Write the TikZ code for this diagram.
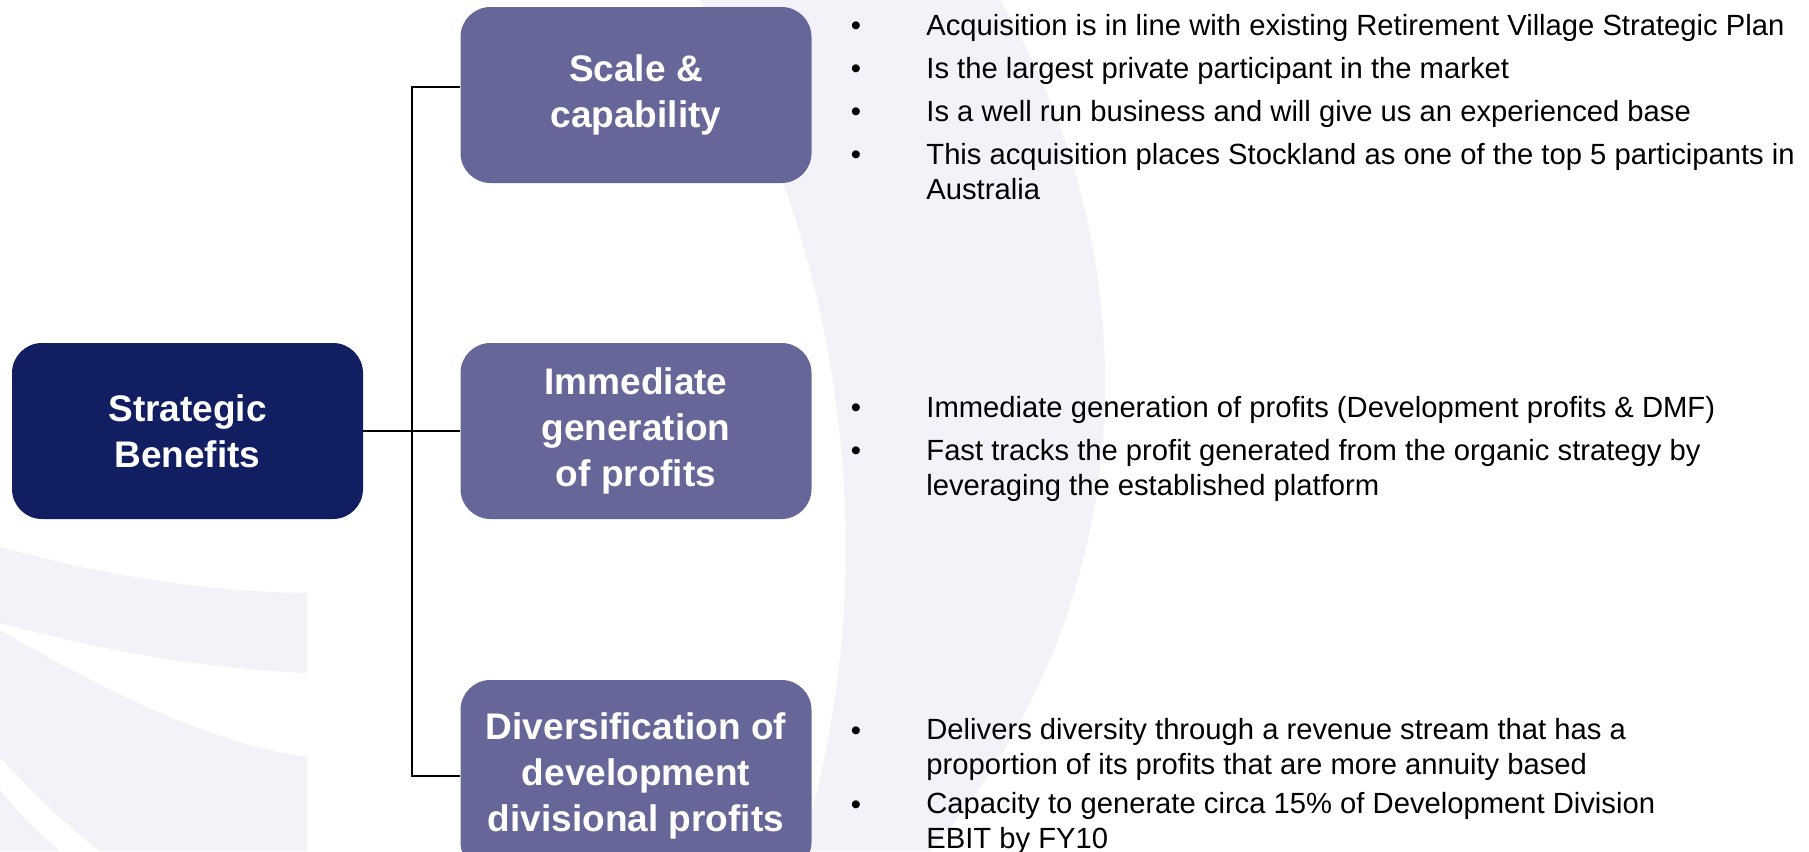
\documentclass[tikz,border=0pt]{standalone}
\usepackage{fontspec}
\setmainfont{Liberation Sans}
\usetikzlibrary{positioning}

\definecolor{navy}{HTML}{121E62}
\definecolor{slate}{HTML}{676698}
\definecolor{wmark}{HTML}{F3F2F8}

\begin{document}
\begin{tikzpicture}[x=0.5pt,y=-0.5pt,
    mainbox/.style={fill=navy,text=white,rounded corners=15pt,inner sep=0pt,
      minimum width=175.5pt,minimum height=88pt,align=center,
      font=\fontsize{18.5}{23}\selectfont\bfseries},
    subbox/.style={mainbox,fill=slate},
    link/.style={draw=black,line width=1pt},
    point/.style={anchor=base west,align=left,inner sep=0pt,
      font=\fontsize{14.6}{17.5}\selectfont},
    dot/.style={anchor=base,inner sep=0pt,font=\fontsize{14.6}{17.5}\selectfont}]

    % Page and faint logo in the background
    \fill[white] (0,0) rectangle (1809,851);
    \useasboundingbox (0,0) rectangle (1809,851);
    \fill[wmark] (700,0) .. controls (860,280) and (880,600) .. (800,851)
        -- (930,851) .. controls (1150,600) and (1150,250) .. (1000,0) -- cycle;
    \begin{scope}
        \clip (0,0) rectangle (307,851);
        \fill[wmark] (0,547) .. controls (120,580) and (220,592) .. (307,593)
            -- (307,673) .. controls (200,668) and (100,650) .. (0,623) -- cycle;
        \fill[wmark] (0,630) .. controls (120,700) and (220,745) .. (307,757)
            -- (307,851) -- (100,851) .. controls (60,820) and (30,790) .. (0,757) -- cycle;
        \fill[wmark] (0,790) .. controls (20,815) and (40,835) .. (60,851) -- (0,851) -- cycle;
    \end{scope}

    % Boxes
    \node[mainbox] (sb) at (187.5,431) {Strategic\\Benefits};
    \node[subbox] (sc) at (636,95) {Scale \&\\capability};
    \node[subbox] (ig) at (636,431) {Immediate\\generation\\of profits};
    \node[subbox,minimum height=96pt] (dv) at (636,776) {Diversification of\\development\\divisional profits};

    % Bracket
    \coordinate (hub) at (412,431);
    \draw[link] (sb.east) -- (ig.west);
    \draw[link] ([yshift=4pt]sc.west) -| (hub) |- (dv.west);

    % Points for each benefit (multi-line ones sit on their last line)
    \node[dot] (d1) at (856,35) {•};
    \node[point] (p1) at (926,35) {Acquisition is in line with existing Retirement Village Strategic Plan};
    \node[dot] (d2) at (856,78) {•};
    \node[point] (p2) at (926,78) {Is the largest private participant in the market};
    \node[dot] (d3) at (856,121) {•};
    \node[point] (p3) at (926,121) {Is a well run business and will give us an experienced base};
    \node[dot] (d4) at (856,164) {•};
    \node[point] (p4) at (926,199) {This acquisition places Stockland as one of the top 5 participants in\\Australia};

    \node[dot] (d5) at (856,417) {•};
    \node[point] (p5) at (926,417) {Immediate generation of profits (Development profits \& DMF)};
    \node[dot] (d6) at (856,460) {•};
    \node[point] (p6) at (926,495) {Fast tracks the profit generated from the organic strategy by\\leveraging the established platform};

    \node[dot] (d7) at (856,740) {•};
    \node[point] (p7) at (926,774) {Delivers diversity through a revenue stream that has a\\proportion of its profits that are more annuity based};
    \node[dot] (d8) at (856,814) {•};
    \node[point] (p8) at (926,848) {Capacity to generate circa 15\% of Development Division\\EBIT by FY10};
\end{tikzpicture}
\end{document}
